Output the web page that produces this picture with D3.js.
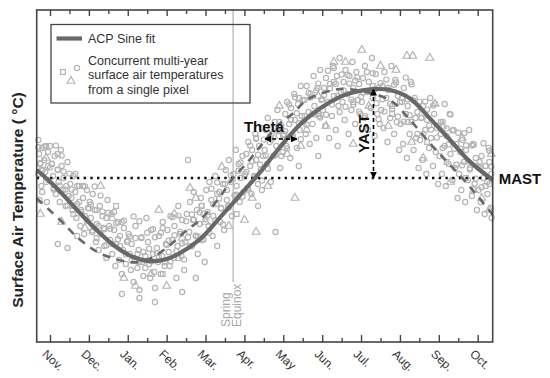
<!DOCTYPE html>
<html><head><meta charset="utf-8">
<script src="https://cdn.jsdelivr.net/npm/d3@7"></script>
<style>
html,body{margin:0;padding:0;background:#fff;}
svg{display:block;font-family:"Liberation Sans",Arial,sans-serif;}
</style></head>
<body><svg id="c" width="550" height="378"></svg>
<script>
// ---- data ----
const months = ["Nov.","Dec.","Jan.","Feb.","Mar.","Apr.","May","Jun.","Jul.","Aug.","Sep.","Oct."];
const monthTicks = [0,1,2,3,4,5,6,7,8,9,10,11];
const minorTicks = [0.5,1.5,2.5,3.5,4.5,5.5,6.5,7.5,8.5,9.5,10.5];
const MAST = 0;
const equinoxM = 4.71;
// ACP sine fit
const fitM = [-0.34,0,0.34,0.77,1.2,1.63,2.06,2.49,2.91,3.34,3.86,4.37,4.89,5.4,5.92,6.43,6.94,7.46,7.72,8.32,8.74,9.26,9.77,10.29,10.8,11.39];
const fitT = [2.0,-0.9,-4.25,-8.75,-13,-16.75,-19.4,-20.7,-20.5,-18.8,-15.3,-9.9,-4.25,1.4,7.8,13.4,17.4,20.3,21.2,22.2,22,19.9,14.9,9.5,4.1,-0.5];
// shifted (dashed) curve
const shiftM = [-0.34,0.26,0.69,1.2,1.63,1.97,2.3,2.66,3.09,3.52,3.86,4.37,4.71,5.06,5.4,5.92,6.26,6.6,7.29,7.72,8.74,9.26,9.77,10.29,10.8,11.39];
const shiftT = [-5.1,-10.5,-14.7,-18.4,-20.1,-20.9,-21,-19.7,-16.75,-13,-10.5,-4.7,0,3.7,7.8,13.7,16.2,19.5,22,22.2,19.5,14.5,8.7,3.25,-2.2,-9.25];
// annotations
const thetaM = [5.53,6.35], thetaT = 9.75;
const yastM = 8.32, yastT = [0,22.2];
// observations: circles, triangles, squares  [month, temperature]
const obsCircle = [
[-0.3,9.5],[-0.28,6],[-0.25,3.5],[-0.3,1],[-0.22,-2],[-0.27,-5.5],[-0.2,7.5],[-0.15,4.5],[-0.12,1.5],[-0.1,-1],[-0.05,6.5],[-0.05,3],[-0.2,-3.5],[-0.08,-6],[0,8],
[0.05,3.5],[0.08,0.5],[0.1,-2.5],[0.12,5.5],[0.15,-4],[0.2,2],[0.22,-1],[0.25,-6],[0.28,7],[0.3,3],[0.33,-3],[0.35,0],[0.4,-7],[0.42,-2],[0.45,4],[0.48,-4.5],[0.2,-16.5],[0.45,-17.5],
[0.52,-1.5],[0.55,-5],[0.58,-8],[0.6,0.5],[0.65,-3.5],[0.68,-10],[0.7,-6.5],[0.75,-2],[0.78,-12],[0.8,-8.5],[0.85,-5],[0.88,-14],[0.9,-9.5],[0.95,-3],[0.98,-7.5],[0.7,-14.5],
[1.02,-6],[1.05,-10],[1.08,-13.5],[1.1,-4],[1.15,-8],[1.18,-16],[1.2,-11.5],[1.25,-18],[1.28,-7],[1.3,-14],[1.35,-9.5],[1.38,-12.5],[1.4,-17],[1.45,-10],[1.48,-5.5],[1.45,-20],
[1.52,-12],[1.55,-15.5],[1.58,-9],[1.6,-19],[1.65,-13],[1.68,-22],[1.7,-16.5],[1.75,-11],[1.78,-20.5],[1.8,-14.5],[1.85,-24],[1.88,-18],[1.9,-12.5],[1.95,-21.5],[1.98,-16],[1.85,-29],
[2.02,-14],[2.05,-19],[2.08,-23],[2.1,-16.5],[2.15,-26],[2.18,-20.5],[2.2,-12],[2.25,-22.5],[2.28,-18],[2.3,-28],[2.35,-15],[2.38,-21],[2.4,-24.5],[2.45,-19.5],[2.48,-10],[2.3,-30],
[2.52,-16],[2.55,-21.5],[2.58,-25],[2.6,-13],[2.65,-19],[2.68,-23.5],[2.7,-27.5],[2.75,-17.5],[2.78,-21],[2.8,-14.5],[2.85,-24],[2.88,-19.5],[2.9,-11],[2.95,-22],[2.98,-16.5],[2.7,-31],
[3.02,-13],[3.05,-18.5],[3.08,-22],[3.1,-9.5],[3.15,-15.5],[3.18,-20],[3.2,-12],[3.25,-25],[3.28,-17],[3.3,-7],[3.35,-14],[3.38,-19.5],[3.4,-10.5],[3.45,-23],[3.48,-16],[3.4,-28.5],
[3.52,-9],[3.55,4.5],[3.58,-13.5],[3.6,-6],[3.65,-17],[3.68,-10.5],[3.7,-3.5],[3.75,-14.5],[3.78,-8],[3.8,-19],[3.85,-11.5],[3.88,-5],[3.9,-15.5],[3.95,-9],[3.98,-21],[3.75,-25],
[4.02,-3],[4.05,-8.5],[4.08,-12],[4.1,-1],[4.15,-5.5],[4.18,-14.5],[4.2,-9.5],[4.25,0.5],[4.28,-6.5],[4.3,-17],[4.35,-3.5],[4.38,-11],[4.4,-7.5],[4.45,-1.5],[4.48,-13],
[4.52,2],[4.55,-3],[4.58,-7],[4.6,4.5],[4.65,-1],[4.68,-9.5],[4.72,1],[4.75,-4.5],[4.78,7],[4.8,-2],[4.85,3.5],[4.88,-6],[4.9,0],[4.95,5.5],[4.98,-3.5],
[5.02,1],[5.05,6],[5.08,-2.5],[5.1,9],[5.15,3],[5.18,-4],[5.2,7],[5.25,0.5],[5.28,11],[5.3,4.5],[5.35,-1.5],[5.38,8],[5.42,2],[5.45,12.5],[5.48,5.5],[5.35,-7],[5.45,-3],
[5.52,7],[5.55,12],[5.58,3.5],[5.6,15],[5.65,9],[5.68,-1],[5.7,11],[5.75,5.5],[5.78,14],[5.8,-13.5],[5.82,8],[5.85,17],[5.88,10.5],[5.92,2.5],[5.95,13],[5.98,6.5],
[6.02,11],[6.05,16],[6.08,8],[6.1,19],[6.15,13.5],[6.18,5],[6.2,17.5],[6.25,10],[6.28,21],[6.3,14.5],[6.35,7.5],[6.38,18.5],[6.42,12],[6.45,23],[6.48,15.5],[6.4,3],
[6.52,14],[6.55,19.5],[6.58,11],[6.6,23],[6.65,16.5],[6.68,8.5],[6.7,21],[6.75,13.5],[6.78,25.5],[6.8,18],[6.85,10],[6.88,22.5],[6.92,15.5],[6.95,27],[6.98,19.5],[6.9,5.5],
[7.02,17],[7.05,22.5],[7.08,13],[7.1,25],[7.15,19],[7.18,10],[7.2,23.5],[7.25,15.5],[7.28,28],[7.3,20.5],[7.35,12],[7.38,25.5],[7.42,18],[7.45,30],[7.48,21.5],[7.4,8],
[7.52,19],[7.55,24],[7.58,14.5],[7.6,27],[7.65,21],[7.68,11],[7.7,25.5],[7.75,17],[7.78,29],[7.8,22.5],[7.85,13.5],[7.88,26.5],[7.92,19.5],[7.95,23.5],[7.98,16],
[8.02,19],[8.05,25],[8.08,15],[8.1,28],[8.15,21.5],[8.18,12],[8.2,24],[8.25,17.5],[8.28,30],[8.3,20],[8.35,10.5],[8.38,26],[8.42,16],[8.45,22.5],[8.48,13.5],
[8.52,17],[8.55,23],[8.58,12.5],[8.6,26.5],[8.65,20],[8.68,9],[8.7,22],[8.75,15],[8.78,28],[8.8,18],[8.85,11],[8.88,24.5],[8.92,14],[8.95,20.5],[8.98,7],
[9.02,13.5],[9.05,19],[9.08,8.5],[9.1,22.5],[9.15,16],[9.18,5],[9.2,18],[9.25,11],[9.28,24],[9.3,14],[9.35,7],[9.38,20],[9.42,10],[9.45,16.5],[9.48,2.5],
[9.52,9.5],[9.55,15],[9.58,4.5],[9.6,18],[9.65,12],[9.68,1],[9.7,14.5],[9.75,7.5],[9.78,20],[9.8,10],[9.85,3],[9.88,16],[9.92,6.5],[9.95,12.5],[9.98,-1.5],
[10.02,5.5],[10.05,11],[10.08,1],[10.1,14],[10.15,8],[10.18,-2],[10.2,10.5],[10.25,3.5],[10.28,16],[10.3,6],[10.35,-0.5],[10.38,12],[10.42,2.5],[10.45,8.5],[10.48,-5],
[10.52,1],[10.55,6.5],[10.58,-3],[10.6,9.5],[10.65,4],[10.68,-6],[10.7,7],[10.75,-0.5],[10.78,12],[10.8,2.5],[10.85,-4.5],[10.88,8.5],[10.92,-1.5],[10.95,5],[10.98,-8],
[11.02,-3],[11.05,2.5],[11.08,-6],[11.1,5.5],[11.15,0],[11.18,-9],[11.2,3],[11.25,-4],[11.28,7.5],[11.3,-1.5],[11.33,-7.5],[11.35,1],[11.36,-10],[11.3,4]
];
// denser core of circles, close to the fitted curve
const obsCircleCore = [
[-0.3,7.7],[-0.2,1.9],[-0.1,8],[0,2.6],[0.1,-2.9],[0.2,2.1],[0.3,5.6],[0.4,-2.9],[0.5,1.1],[0.6,-7],
[0.7,-2],[0.8,-8],[0.9,-2.1],[1,-7.6],[1.1,-13.1],[1.2,-8],[1.3,-4.4],[1.4,-12.8],[1.5,-8.7],[1.6,-16.5],
[1.7,-11.3],[1.8,-17],[1.9,-10.6],[2,-15.6],[2.1,-20.6],[2.2,-15],[2.3,-10.8],[2.4,-18.5],[2.5,-13.7],[2.6,-20.8],
[2.7,-14.8],[2.8,-19.7],[2.9,-12.5],[3,-16.7],[3.1,-20.8],[3.2,-14.3],[3.3,-9.4],[3.4,-16.4],[3.5,-10.8],[3.6,-17.1],
[3.7,-10.4],[3.8,-14.6],[3.9,-6.9],[4,-10.3],[4.1,-13.7],[4.2,-6.6],[4.3,-1.1],[4.4,-7.6],[4.5,-1.5],[4.6,-7.4],
[4.7,-0.3],[4.8,-4.2],[4.9,3.9],[5,0.5],[5.1,-2.9],[5.2,4.2],[5.3,9.8],[5.4,3.4],[5.5,9.6],[5.6,2.3],
[5.7,9.6],[5.8,5.8],[5.9,14],[6,10.7],[6.1,7.4],[6.2,14.5],[6.3,20.2],[6.4,13.7],[6.5,19.5],[6.6,13.3],
[6.7,20.1],[6.8,15.9],[6.9,23.6],[7,19.7],[7.1,15.8],[7.2,22.4],[7.3,27.5],[7.4,20.5],[7.5,25.9],[7.6,17.8],
[7.7,23.6],[7.8,18.4],[7.9,25.1],[8,20.3],[8.1,15.5],[8.2,21.6],[8.3,26.2],[8.4,18.7],[8.5,23.7],[8.6,16.6],
[8.7,22.5],[8.8,17.3],[8.9,23.9],[9,19],[9.1,14.1],[9.2,19.7],[9.3,23.4],[9.4,15],[9.5,19.1],[9.6,11.1],
[9.7,17.1],[9.8,12.1],[9.9,18.6],[10,13],[10.1,7.5],[10.2,12.4],[10.3,15.9],[10.4,7.3],[10.5,11.3],[10.6,3.2],
[10.7,8.2],[10.8,2.1],[10.9,8.3],[11,3],[11.1,-2.3],[11.2,3],[11.3,6.8],
[-0.25,3.7],[-0.15,7.9],[-0.05,-0.5],[0.05,3.6],[0.15,8.1],[0.25,-1.9],[0.35,1.6],[0.45,-6.9],[0.55,-2.9],[0.65,1],
[0.75,-6],[0.85,-2],[0.95,-10.6],[1.05,-6.6],[1.15,-2.1],[1.25,-12],[1.35,-8.4],[1.45,-16.8],[1.55,-12.7],[1.65,-8.5],
[1.75,-15.3],[1.85,-11],[1.95,-19.1],[2.05,-14.6],[2.15,-9.6],[2.25,-19],[2.35,-14.8],[2.45,-22.5],[2.55,-17.7],[2.65,-12.8],
[2.75,-18.8],[2.85,-13.7],[2.95,-21],[3.05,-15.7],[3.15,-9.8],[3.25,-18.3],[3.35,-13.4],[3.45,-20.4],[3.55,-14.8],[3.65,-9.1],
[3.75,-14.4],[3.85,-8.6],[3.95,-15.4],[4.05,-9.3],[4.15,-2.7],[4.25,-10.6],[4.35,-5.1],[4.45,-11.6],[4.55,-5.5],[4.65,0.6],
[4.75,-4.3],[4.85,1.8],[4.95,-4.6],[5.05,1.5],[5.15,8.1],[5.25,0.2],[5.35,5.8],[5.45,-0.6],[5.55,5.6],[5.65,10.3],
[5.75,5.6],[5.85,11.8],[5.95,5.5],[6.05,11.7],[6.15,18.4],[6.25,10.5],[6.35,16.2],[6.45,9.7],[6.55,15.5],[6.65,21.3],
[6.75,16.1],[6.85,21.9],[6.95,15.1],[7.05,20.7],[7.15,26.8],[7.25,18.4],[7.35,23.5],[7.45,16.5],[7.55,21.9],[7.65,25.8],
[7.75,19.6],[7.85,24.4],[7.95,16.6],[8.05,21.3],[8.15,26.5],[8.25,17.6],[8.35,22.2],[8.45,14.7],[8.55,19.7],[8.65,24.6],
[8.75,18.5],[8.85,23.3],[8.95,15.4],[9.05,20],[9.15,25.1],[9.25,15.7],[9.35,19.4],[9.45,11],[9.55,15.1],[9.65,19.1],
[9.75,13.1],[9.85,18.1],[9.95,10.1],[10.05,14],[10.15,18.5],[10.25,8.4],[10.35,11.9],[10.45,3.3],[10.55,7.3],[10.65,11.2],
[10.75,4.2],[10.85,8.1],[10.95,-0.2],[11.05,4],[11.15,8.7],[11.25,-1],[11.35,2.8]
];
const obsTriangle = [
[-0.25,-9],[-0.1,5],[0.3,-11],[0.9,-12.5],[1.3,-2],[1.6,-10],[1.9,-25],[2.2,-27],[2.6,-24],[2.8,-8],[3.0,-27],[3.2,-9],[3.4,-15],[3.6,-2.5],[3.75,-5],[4.0,-11],
[4.42,2.75],[4.6,-12],[5.0,-10.5],[5.3,-13.5],[5.6,-2],[5.9,18],[6.1,6],[6.3,-5],[6.6,12],[6.9,20.5],[7.1,13],[7.3,29],[7.6,29],[8.02,32],[8.2,18],[8.5,28],
[8.7,13],[8.9,27],[9.18,30.5],[9.33,30.5],[9.77,30],[9.3,9],[9.6,5],[9.9,18.5],[10.1,13],[10.3,-1],[10.6,10],[10.9,-3],[11.1,-5],[11.3,-8],[11.35,6],[7.8,8.5],[6.45,8],[5.2,-5]
];
const obsSquare = [
[-0.2,2],[0.2,6],[0.6,-9],[1.2,-15],[1.7,-7],[2.3,-21],[2.9,-24],[3.3,-20],[3.9,-7],[4.3,-4],[4.8,-9],[5.3,10],[5.9,12],[6.4,20],[6.9,16],[7.3,24],
[7.8,19],[8.3,23],[8.8,16],[9.2,14],[9.7,9],[10.2,4],[10.7,0],[11.2,-2]
];
const legendLabels = ["ACP Sine fit", ["Concurrent multi-year","surface air temperatures","from a single pixel"]];

// ---- layout ----
const L = 36.7, R = 492.7, T = 10, B = 342;
const x = d3.scaleLinear().domain([-0.342, 11.386]).range([L, R]);
const y = d3.scaleLinear().domain([-41, 42]).range([B, T]);
const svg = d3.select("#c");
const ptCol = "#b5b5b5", curveCol = "#686868";

// equinox line
svg.append("line").attr("x1", x(equinoxM)).attr("x2", x(equinoxM))
  .attr("y1", y(42)).attr("y2", y(-26)).attr("stroke", "#b0b0b0").attr("stroke-width", 1.2);
const eq = svg.append("text").attr("fill", "#a8a8a8").attr("font-size", 12)
  .attr("text-anchor", "start");
eq.append("tspan").attr("x", 0).attr("y", 0).text("Spring");
eq.append("tspan").attr("x", 0).attr("y", 11).text("Equinox");
eq.attr("transform", `translate(${x(equinoxM) - 3.5},327) rotate(-90)`);

// observations
const pts = svg.append("g").attr("fill", "none").attr("stroke", ptCol).attr("stroke-width", 1.2);
pts.selectAll("circle").data(obsCircle.concat(obsCircleCore)).join("circle")
  .attr("cx", d => x(d[0])).attr("cy", d => y(d[1])).attr("r", 2.6);
const tri = d3.symbol().type(d3.symbolTriangle).size(26);
const sq = d3.symbol().type(d3.symbolSquare).size(22);
pts.selectAll("path.t").data(obsTriangle).join("path").attr("class", "t")
  .attr("d", tri).attr("transform", d => `translate(${x(d[0])},${y(d[1])})`);
pts.selectAll("path.s").data(obsSquare).join("path").attr("class", "s")
  .attr("d", sq).attr("transform", d => `translate(${x(d[0])},${y(d[1])})`);

// MAST dotted line
svg.append("line").attr("x1", L).attr("x2", R).attr("y1", y(MAST)).attr("y2", y(MAST))
  .attr("stroke", "#111").attr("stroke-width", 2.4).attr("stroke-dasharray", "2.4,4.3");

// curves
const line = d3.line().x(d => x(d[0])).y(d => y(d[1])).curve(d3.curveCatmullRom.alpha(0.5));
svg.append("path").datum(shiftM.map((m, i) => [m, shiftT[i]])).attr("d", line)
  .attr("fill", "none").attr("stroke", curveCol).attr("stroke-width", 2.6).attr("stroke-dasharray", "8,6.5");
svg.append("path").datum(fitM.map((m, i) => [m, fitT[i]])).attr("d", line)
  .attr("fill", "none").attr("stroke", curveCol).attr("stroke-width", 4.2);

// arrowheads
const defs = svg.append("defs");
defs.append("marker").attr("id", "ah").attr("viewBox", "0 0 10 10").attr("refX", 9).attr("refY", 5)
  .attr("markerWidth", 7).attr("markerHeight", 7).attr("orient", "auto-start-reverse")
  .attr("markerUnits", "userSpaceOnUse")
  .append("path").attr("d", "M0,0L10,5L0,10z").attr("fill", "#000");

// Theta
svg.append("line").attr("x1", x(thetaM[0])).attr("x2", x(thetaM[1])).attr("y1", y(thetaT)).attr("y2", y(thetaT))
  .attr("stroke", "#000").attr("stroke-width", 1.6).attr("stroke-dasharray", "4,3")
  .attr("marker-start", "url(#ah)").attr("marker-end", "url(#ah)");
svg.append("text").attr("x", (x(thetaM[0]) + x(thetaM[1])) / 2 - 17).attr("y", y(thetaT) - 7)
  .attr("text-anchor", "middle").attr("font-weight", "bold").attr("font-size", 15).attr("fill", "#111").text("Theta");

// YAST
svg.append("line").attr("x1", x(yastM)).attr("x2", x(yastM)).attr("y1", y(yastT[0])).attr("y2", y(yastT[1]))
  .attr("stroke", "#000").attr("stroke-width", 1.6).attr("stroke-dasharray", "4,3")
  .attr("marker-start", "url(#ah)").attr("marker-end", "url(#ah)");
svg.append("text").attr("transform", `translate(${x(yastM) - 4.5},${y(11.1)}) rotate(-90)`)
  .attr("text-anchor", "middle").attr("font-weight", "bold").attr("font-size", 15).attr("fill", "#111").text("YAST");

// MAST label
svg.append("text").attr("x", R + 6).attr("y", y(MAST) + 5.5).attr("font-weight", "bold")
  .attr("font-size", 15).attr("fill", "#111").text("MAST");

// axes
const bottom = svg.append("g").attr("transform", `translate(0,${B})`)
  .call(d3.axisBottom(x).tickValues(monthTicks).tickSize(-7).tickSizeOuter(0).tickFormat((d, i) => months[i]));
bottom.selectAll("text").attr("x", 0).attr("y", 0).attr("dy", 0)
  .attr("text-anchor", "start").attr("font-size", 12).attr("fill", "#333")
  .attr("font-family", "Liberation Sans, Arial, sans-serif")
  .attr("transform", "translate(-9,13) rotate(43)");
svg.append("g").attr("transform", `translate(0,${B})`)
  .call(d3.axisBottom(x).tickValues(minorTicks).tickSize(-4).tickSizeOuter(0).tickFormat(""));
svg.append("g").attr("transform", `translate(0,${T})`)
  .call(d3.axisTop(x).tickValues(monthTicks).tickSize(-6).tickSizeOuter(0).tickFormat(""));
svg.append("g").attr("transform", `translate(0,${T})`)
  .call(d3.axisTop(x).tickValues(minorTicks).tickSize(-4).tickSizeOuter(0).tickFormat(""));
svg.selectAll(".domain").remove();
svg.selectAll(".tick line").attr("stroke", "#444").attr("stroke-width", 1.4);

// frame
svg.append("rect").attr("x", L).attr("y", T).attr("width", R - L).attr("height", B - T)
  .attr("fill", "none").attr("stroke", "#444").attr("stroke-width", 1.6);

// y label
svg.append("text").attr("transform", `translate(22.5,200) rotate(-90)`).attr("text-anchor", "middle")
  .attr("font-weight", "bold").attr("font-size", 15.5).attr("fill", "#222").text("Surface Air Temperature ( °C)");

// legend
const lg = svg.append("g");
lg.append("rect").attr("x", 51).attr("y", 24.5).attr("width", 199).attr("height", 78.5)
  .attr("fill", "none").attr("stroke", "#444").attr("stroke-width", 1.3);
lg.append("line").attr("x1", 56.5).attr("x2", 82).attr("y1", 38.5).attr("y2", 38.5)
  .attr("stroke", curveCol).attr("stroke-width", 4.2);
lg.append("text").attr("x", 88).attr("y", 43).attr("font-size", 12.5).attr("fill", "#333").text(legendLabels[0]);
legendLabels[1].forEach((t, i) => lg.append("text").attr("x", 88).attr("y", 64.5 + i * 14.8)
  .attr("font-size", 12.5).attr("fill", "#333").text(t));
const lp = lg.append("g").attr("fill", "none").attr("stroke", ptCol).attr("stroke-width", 1.2);
lp.append("path").attr("d", sq).attr("transform", "translate(63,72)");
lp.append("circle").attr("cx", 77).attr("cy", 68).attr("r", 2.6);
lp.append("path").attr("d", tri).attr("transform", "translate(71,81)");
</script></body></html>
